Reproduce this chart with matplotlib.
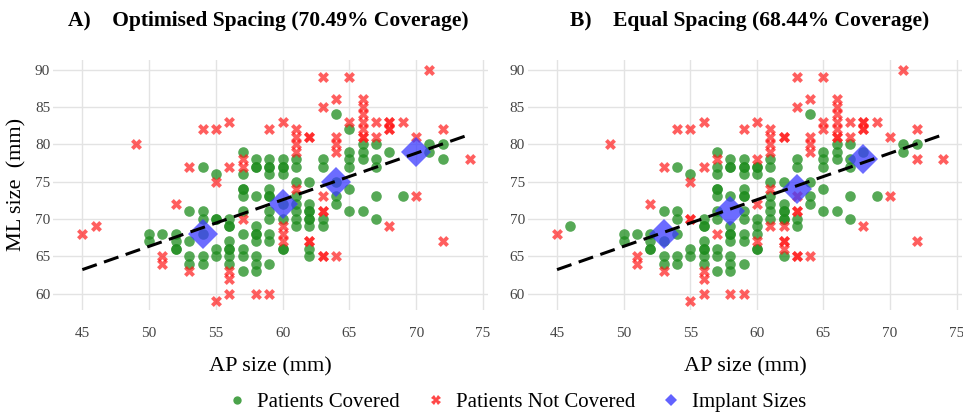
import matplotlib
matplotlib.use("Agg")
import matplotlib.pyplot as plt
from matplotlib.lines import Line2D

plt.rcParams['font.family'] = ['Liberation Serif', 'DejaVu Serif']

# Patient (AP, ML) sizes in mm, one line per AP value
patients = [
    (45, 68), (46, 69), (49, 80),
    (50, 68), (50, 67),
    (51, 68), (51, 65), (51, 64),
    (52, 72), (52, 68), (52, 67), (52, 66), (52, 66),
    (53, 77), (53, 71), (53, 67), (53, 65), (53, 64), (53, 63),
    (54, 82), (54, 77), (54, 71), (54, 70), (54, 68), (54, 65), (54, 64),
    (55, 82), (55, 76), (55, 75), (55, 70), (55, 70), (55, 66), (55, 65), (55, 59),
    (56, 83), (56, 77), (56, 70), (56, 69), (56, 69), (56, 67), (56, 66), (56, 66),
    (56, 65), (56, 64), (56, 63), (56, 62), (56, 60),
    (57, 79), (57, 78), (57, 77), (57, 76), (57, 74), (57, 74), (57, 73), (57, 71),
    (57, 70), (57, 68), (57, 66), (57, 65), (57, 63),
    (58, 78), (58, 77), (58, 77), (58, 73), (58, 69), (58, 68), (58, 68), (58, 67),
    (58, 65), (58, 64), (58, 63), (58, 60),
    (59, 82), (59, 78), (59, 77), (59, 77), (59, 76), (59, 74), (59, 73), (59, 73),
    (59, 71), (59, 70), (59, 68), (59, 67), (59, 64), (59, 60),
    (60, 83), (60, 78), (60, 77), (60, 77), (60, 76), (60, 72), (60, 70), (60, 69),
    (60, 68), (60, 67), (60, 66), (60, 66),
    (61, 82), (61, 81), (61, 80), (61, 79), (61, 78), (61, 77), (61, 75), (61, 74),
    (61, 73), (61, 72), (61, 71), (61, 70), (61, 69),
    (62, 81), (62, 81), (62, 75), (62, 72), (62, 71), (62, 71), (62, 70), (62, 70),
    (62, 69), (62, 67), (62, 67), (62, 66), (62, 65),
    (63, 89), (63, 85), (63, 78), (63, 77), (63, 73), (63, 71), (63, 71), (63, 70),
    (63, 69), (63, 65), (63, 65),
    (64, 86), (64, 84), (64, 81), (64, 80), (64, 79), (64, 75), (64, 73), (64, 72), (64, 65),
    (65, 89), (65, 83), (65, 82), (65, 79), (65, 78), (65, 77), (65, 74), (65, 71),
    (66, 86), (66, 85), (66, 84), (66, 83), (66, 82), (66, 81), (66, 81), (66, 80),
    (66, 79), (66, 78), (66, 71),
    (67, 83), (67, 81), (67, 80), (67, 78), (67, 77), (67, 73), (67, 70),
    (68, 83), (68, 83), (68, 82), (68, 82), (68, 79), (68, 69),
    (69, 83), (69, 73),
    (70, 81), (70, 73),
    (71, 90), (71, 80), (71, 79),
    (72, 82), (72, 80), (72, 78), (72, 67),
    (74, 78),
]

# Patients left uncovered by each implant set
uncovered_opt = [
    (45, 68), (46, 69), (49, 80), (51, 65), (51, 64), (52, 72), (53, 77), (53, 63),
    (54, 82), (55, 82), (55, 75), (55, 59), (56, 83), (56, 77), (56, 63), (56, 62),
    (56, 60), (57, 78), (57, 77), (57, 70), (58, 60), (59, 82), (59, 60), (60, 83),
    (60, 69), (60, 68), (60, 67), (61, 82), (61, 81), (61, 80), (61, 79), (61, 74),
    (62, 81), (62, 67), (63, 89), (63, 85), (63, 73), (63, 71), (63, 65), (64, 86),
    (64, 81), (64, 80), (64, 79), (64, 65), (65, 89), (65, 83), (66, 86), (66, 85),
    (66, 84), (66, 83), (66, 82), (66, 81), (67, 83), (67, 81), (68, 83), (68, 82),
    (68, 69), (69, 83), (70, 81), (70, 73), (71, 90), (72, 82), (72, 67), (74, 78),
]
uncovered_eq = [
    (45, 68), (49, 80), (51, 65), (51, 64), (52, 72), (53, 77), (53, 63), (54, 82),
    (55, 82), (55, 75), (55, 70), (55, 59), (56, 83), (56, 77), (56, 63), (56, 62),
    (56, 60), (57, 78), (57, 68), (58, 60), (59, 82), (59, 60), (60, 83), (60, 78),
    (60, 72), (60, 67), (61, 82), (61, 81), (61, 80), (61, 79), (61, 74), (61, 69),
    (62, 81), (62, 69), (62, 67), (62, 66), (63, 89), (63, 85), (63, 73), (63, 71),
    (63, 65), (64, 86), (64, 81), (64, 80), (64, 79), (64, 65), (65, 89), (65, 83),
    (65, 82), (66, 86), (66, 85), (66, 84), (66, 83), (66, 82), (66, 81), (67, 83),
    (67, 81), (68, 83), (68, 82), (68, 69), (69, 83), (70, 81), (70, 73), (71, 90),
    (72, 82), (72, 78), (72, 67), (74, 78),
]

implants_opt_ap = [54, 60, 64, 70]
implants_opt_ml = [68, 72, 75, 79]
implants_eq_ap = [53, 58, 63, 68]
implants_eq_ml = [68, 71, 74, 78]

titles = ["A)    Optimised Spacing (70.49% Coverage)",
          "B)    Equal Spacing (68.44% Coverage)"]

# linear trend of ML on AP
trend_slope = 0.624
trend_intercept = 35.12
trend_range = [45, 74]

green = '#1e8c1e'
red = '#ff1a1a'
blue = '#3b3bff'

fig = plt.figure(figsize=(9.63, 4.16), dpi=100)
ax_a = fig.add_axes([0.055, 0.255, 0.452, 0.601])
ax_b = fig.add_axes([0.548, 0.255, 0.451, 0.601])

panels = [
    (ax_a, uncovered_opt, implants_opt_ap, implants_opt_ml, titles[0]),
    (ax_b, uncovered_eq, implants_eq_ap, implants_eq_ml, titles[1]),
]

for ax, uncovered, imp_ap, imp_ml, title in panels:
    miss = set(uncovered)
    cov = [p for p in patients if p not in miss]
    nocov = [p for p in patients if p in miss]

    ax.scatter([p[0] for p in cov], [p[1] for p in cov], s=58, color=green,
               alpha=0.75, linewidths=0, zorder=2)
    ax.scatter([p[0] for p in nocov], [p[1] for p in nocov], s=62, marker='X',
               color=red, alpha=0.7, linewidths=0, zorder=3)
    ax.plot(imp_ap, imp_ml, 'D', ms=15, color=blue, alpha=0.75, mew=0, zorder=4)

    tx = trend_range
    ty = [trend_slope * v + trend_intercept for v in tx]
    ax.plot(tx, ty, color='black', lw=2.2, dashes=(5, 2.5), zorder=5)

    ax.set_xlim(42.8, 75.4)
    ax.set_ylim(57.8, 91.3)
    ax.set_xticks([45, 50, 55, 60, 65, 70, 75])
    ax.set_yticks([60, 65, 70, 75, 80, 85, 90])
    ax.grid(True, color='#e3e3e3', lw=1)
    ax.set_axisbelow(True)
    for s in ax.spines.values():
        s.set_visible(False)
    ax.tick_params(length=0, labelsize=11, labelcolor='#444444', pad=2)
    ax.tick_params(axis='x', pad=12)
    ax.set_xlabel('AP size (mm)', fontsize=16, labelpad=13)

ax_a.set_ylabel('ML size  (mm)', fontsize=16, labelpad=6)

fig.text(0.279, 0.950, titles[0], ha='center', va='center', fontsize=15.5, fontweight='bold')
fig.text(0.778, 0.950, titles[1], ha='center', va='center', fontsize=15.5, fontweight='bold')

handles = [
    Line2D([], [], marker='o', ls='', color=green, alpha=0.8, ms=6, mew=0),
    Line2D([], [], marker='X', ls='', color=red, alpha=0.8, ms=7, mew=0),
    Line2D([], [], marker='D', ls='', color=blue, alpha=0.8, ms=6, mew=0),
]
fig.legend(handles, ['Patients Covered', 'Patients Not Covered', 'Implant Sizes'],
           loc='center', bbox_to_anchor=(0.536, 0.033), ncol=3, frameon=False,
           fontsize=15, handlelength=1.0, handletextpad=0.5, columnspacing=1.2)

fig.savefig('out.png', dpi=100)
